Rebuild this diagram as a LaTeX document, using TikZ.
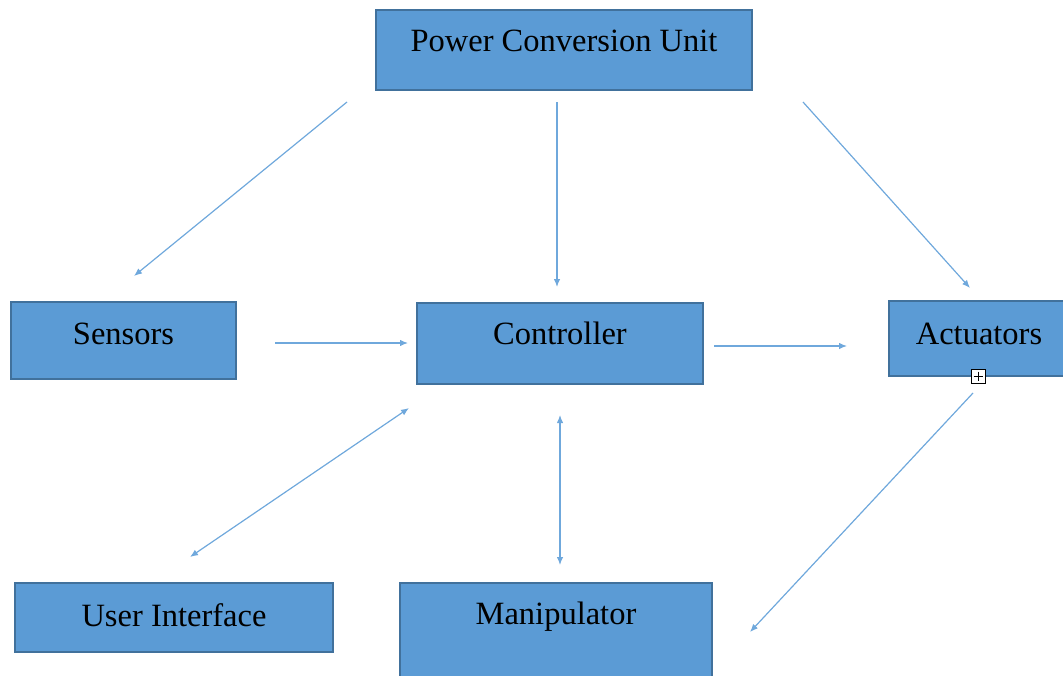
\documentclass[tikz,border=0pt]{standalone}
\usepackage{fontspec}
\setmainfont{Liberation Serif}
\usetikzlibrary{arrows.meta}
\definecolor{boxfill}{HTML}{5B9BD5}
\definecolor{boxline}{HTML}{41719C}
\definecolor{arrowcol}{HTML}{6FA8DC}
\begin{document}
\begin{tikzpicture}[x=1pt,y=-1pt,
  box/.style={draw=boxline, fill=boxfill, line width=2pt, inner sep=0pt, anchor=north west,
    font=\fontsize{32.5}{38}\selectfont},
  conn/.style={draw=arrowcol, line width=1.2pt, -{Latex[length=8pt,width=6.5pt]}},
  biconn/.style={draw=arrowcol, line width=1.2pt, {Latex[length=8pt,width=6.5pt]}-{Latex[length=8pt,width=6.5pt]}}]
\useasboundingbox (0,0) rectangle (1063,675);
\clip (0,0) rectangle (1063,675);
\node[box, minimum width=376pt, text height=41pt, text depth=39pt] (pcu) at (375,9) {Power Conversion Unit};
\node[box, minimum width=225pt, text height=42pt, text depth=35pt] (sens) at (10,301) {Sensors};
\node[box, minimum width=286pt, text height=41pt, text depth=40pt] (ctrl) at (416,302) {Controller};
\node[box, minimum width=180pt, text height=43pt, text depth=32pt] (act) at (888,300) {Actuators};
\node[box, minimum width=318pt, text height=43pt, text depth=26pt] (ui) at (14,582) {User Interface};
\node[box, minimum width=312pt, text height=41pt, text depth=112pt] (man) at (399,582) {Manipulator};
% connector end points
\coordinate (a1s) at (347,102); \coordinate (a1e) at (134,276);
\coordinate (a2s) at (557,102); \coordinate (a2e) at (557,287);
\coordinate (a3s) at (803,102); \coordinate (a3e) at (970,288);
\coordinate (a4s) at (275,343); \coordinate (a4e) at (408,343);
\coordinate (a5s) at (714,346); \coordinate (a5e) at (847,346);
\coordinate (a6s) at (409,408); \coordinate (a6e) at (190,557);
\coordinate (a7s) at (560,415); \coordinate (a7e) at (560,565);
\coordinate (a8s) at (973,393); \coordinate (a8e) at (750,632);
\draw[conn] (a1s) -- (a1e);
\draw[conn] (a2s) -- (a2e);
\draw[conn] (a3s) -- (a3e);
\draw[conn] (a4s) -- (a4e);
\draw[conn] (a5s) -- (a5e);
\draw[biconn] (a6s) -- (a6e);
\draw[biconn] (a7s) -- (a7e);
\draw[conn] (a8s) -- (a8e);
% small boxed plus handle
\draw[black, line width=1pt, fill=white] (971,369) rectangle (985,383);
\draw[black, line width=1pt] (973.5,376) -- (982.5,376) (978,371.5) -- (978,380.5);
\end{tikzpicture}
\end{document}
